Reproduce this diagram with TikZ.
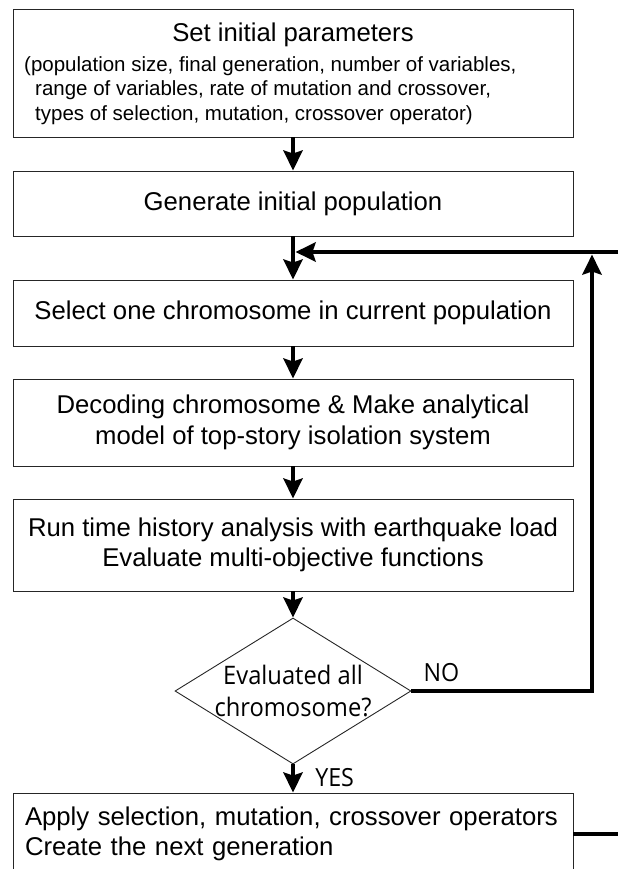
\documentclass[tikz,border=0pt]{standalone}
\usepackage{fontspec}
\usepackage{tikz}
\usetikzlibrary{arrows.meta,shapes.geometric}
\setmainfont{Liberation Sans}
\newfontfamily\diafont[FakeStretch=0.93]{Open Sans}
\tikzstyle{arrow} = [
    line width=4.5pt,
    -{Stealth[length=20pt,width=19pt,inset=3pt]},
    draw=black
]
\tikzstyle{process} = [
    rectangle,
    minimum width=560pt,
    align=center,
    draw=black!85,
    line width=0.9pt,
    font=\fontsize{25.7pt}{30.5pt}\selectfont
]
\tikzstyle{decision} = [
    diamond,
    aspect=1.6,
    minimum width=236pt,
    minimum height=146pt,
    inner sep=-20pt,
    align=center,
    draw=black!85,
    line width=0.9pt,
    font=\diafont\fontsize{25.5pt}{32pt}\selectfont
]
\tikzstyle{tag} = [
    inner sep=0pt,
    font=\diafont\fontsize{25pt}{28pt}\selectfont
]
\begin{document}
\begin{tikzpicture}[x=1pt,y=-1pt]
    \useasboundingbox (0,0) rectangle (618,869);
    \clip (0,0) rectangle (618,869);

    % Boxes
    \node[process, minimum height=128pt] (setup) at (293,73) {};
    \node[font=\fontsize{25.7pt}{30.5pt}\selectfont] (setname) at (293,35) {Set initial parameters};
    \node[anchor=north west, inner sep=0pt, align=left, font=\fontsize{20.5pt}{24.5pt}\selectfont] (setlist) at (24,56)
        {(population size, final generation, number of variables,\\
         \hspace*{11pt}range of variables, rate of mutation and crossover,\\
         \hspace*{11pt}types of selection, mutation, crossover operator)};
    \node[process, minimum height=65pt] (init) at (293,203.5) {Generate initial population};
    \node[process, minimum height=66pt] (select) at (293,313) {Select one chromosome in current population};
    \node[process, minimum height=87pt] (decode) at (293,422.5) {Decoding chromosome \& Make analytical\\model of top-story isolation system};
    \node[process, minimum height=92pt] (analysis) at (293,545) {Run time history analysis with earthquake load\\Evaluate multi-objective functions};
    \node[decision] (check) at (293,691) {Evaluated all\\chromosome?};
    \node[process, minimum height=82pt, text width=536pt, inner xsep=12pt, align=left] (nextgen) at (293,834)
        {Apply selection, mutation, crossover operators\\Create the next generation};

    % Loop ends
    \coordinate (loopin) at (618,252);
    \coordinate (join) at (295.5,252);
    \coordinate (loopup) at (592,254.5);
    \coordinate (nextout) at (618,834);

    % Arrows
    \draw[arrow] (setup) -- (init);
    \draw[arrow] (init) -- (select);
    \draw[arrow] (loopin) -- (join);
    \draw[arrow] (select) -- (decode);
    \draw[arrow] (decode) -- (analysis);
    \draw[arrow] (analysis) -- (check);
    \draw[arrow] (check.east) -| (loopup) node[tag, pos=0.083, anchor=base, yshift=10pt] {NO};
    \draw[arrow] (check) -- (nextgen) node[tag, midway, anchor=base west, xshift=20pt, yshift=-7.5pt] {YES};
    \draw[line width=4.5pt] (nextgen.east) -- (nextout);
\end{tikzpicture}
\end{document}
